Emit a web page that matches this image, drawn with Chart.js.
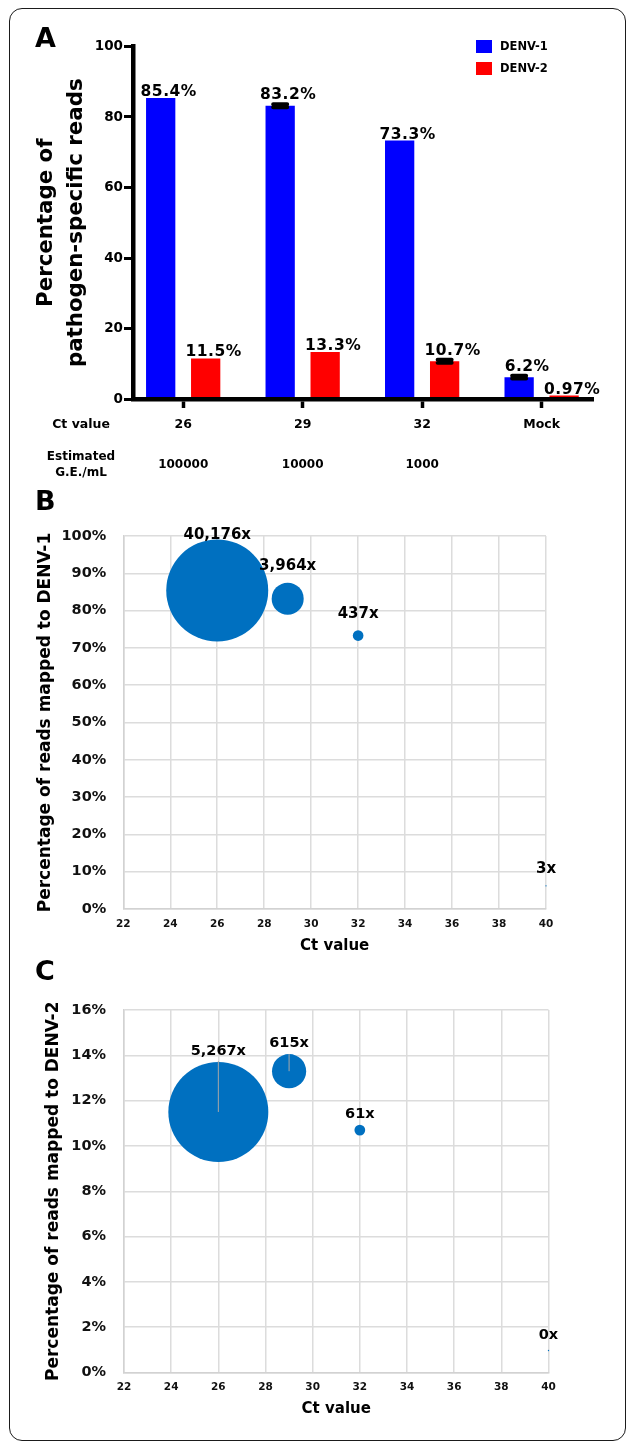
<!DOCTYPE html>
<html>
<head>
<meta charset="utf-8">
<title>DENV read mapping by Ct value</title>
<script src="https://cdn.jsdelivr.net/npm/chart.js@4.4.1/dist/chart.umd.min.js"></script>
<style>
  html, body { margin: 0; padding: 0; background: #fff; }
  #page { position: relative; width: 627px; height: 1443px; overflow: hidden; }
  #frame { position: absolute; left: 9px; top: 8px; width: 615px; height: 1431px;
           border: 1.5px solid #1b1b1b; border-radius: 13px; }
  canvas { position: absolute; left: 0; }
</style>
</head>
<body>
<div id="page">
  <div id="frame"></div>
  <canvas id="chartA" width="627" height="485" style="top:0px"></canvas>
  <canvas id="chartB" width="627" height="475" style="top:485px"></canvas>
  <canvas id="chartC" width="627" height="483" style="top:960px"></canvas>
</div>
<script>
const FONT = '"DejaVu Sans", "Noto Sans", sans-serif';

// Panel A: share of pathogen-specific reads per serotype at each Ct value
const ctLabels = ['26', '29', '32', 'Mock'];
const geLabels = ['100000', '10000', '1000', ''];
const denv1Pct = [85.4, 83.2, 73.3, 6.2];
const denv2Pct = [11.5, 13.3, 10.7, 0.97];
const denv1Err = [0, 0.4, 0, 0.4];
const denv2Err = [0, 0, 0.4, 0];

// Panels B and C: bubble area scales with sequencing depth
const ctValues = [26, 29, 32, 40];
const depthDenv1 = [40176, 3964, 437, 3];
const depthDenv2 = [5267, 615, 61, 0];
const denv2ErrUp = [2.25, 0.76, 0, 0];

Chart.defaults.font.family = FONT;
Chart.defaults.color = '#000';

const bold = (size, extra) => Object.assign({ family: FONT, size, weight: 'bold' }, extra || {});
const withCommas = n => String(n).replace(/\B(?=(\d{3})+(?!\d))/g, ',');

function drawLetter(ctx, letter, baseline) {
  ctx.save();
  ctx.font = 'bold 27px ' + FONT;
  ctx.fillStyle = '#000';
  ctx.textAlign = 'left';
  ctx.textBaseline = 'alphabetic';
  ctx.fillText(letter, 35, baseline);
  ctx.restore();
}

// ---------- Panel A ----------
const panelAPlugin = {
  id: 'panelA',
  afterDatasetsDraw(chart) {
    const { ctx } = chart;
    const yS = chart.scales.y;
    chart.data.datasets.forEach((ds, di) => {
      const meta = chart.getDatasetMeta(di);
      meta.data.forEach((bar, i) => {
        const v = ds.data[i].y;
        const e = ds.err[i];
        let base = bar.y - 2;
        ctx.save();
        if (e > 0) {
          const yHi = yS.getPixelForValue(v + e);
          const yLo = yS.getPixelForValue(v - e);
          ctx.strokeStyle = '#000';
          ctx.lineWidth = 4;
          ctx.lineCap = 'round';
          ctx.beginPath();
          ctx.moveTo(bar.x - 7, yHi); ctx.lineTo(bar.x + 7, yHi);
          ctx.moveTo(bar.x, yHi); ctx.lineTo(bar.x, yLo);
          ctx.moveTo(bar.x - 7, yLo); ctx.lineTo(bar.x + 7, yLo);
          ctx.stroke();
          base = yHi - 5;
        }
        // number centred over the bar, % sign trailing
        ctx.font = 'bold 15.5px ' + FONT;
        ctx.letterSpacing = '0.5px';
        const num = String(v);
        const w = ctx.measureText(num).width;
        ctx.fillStyle = '#000';
        ctx.textAlign = 'left';
        ctx.textBaseline = 'alphabetic';
        ctx.fillText(num + '%', bar.x - w / 2, base);
        ctx.restore();
      });
    });
  },
  afterDraw(chart) {
    const { ctx } = chart;
    const xS = chart.scales.x;
    drawLetter(ctx, 'A', 47);

    ctx.save();
    ctx.fillStyle = '#000';
    ctx.textBaseline = 'middle';
    ctx.textAlign = 'center';
    // row headers under the axis
    ctx.font = 'bold 12.5px ' + FONT;
    ctx.fillText('Ct value', 81, 425);
    ctx.font = 'bold 12px ' + FONT;
    ctx.fillText('Estimated', 81, 457);
    ctx.fillText('G.E./mL', 81, 473);
    geLabels.forEach((g, i) => {
      if (g) ctx.fillText(g, xS.getPixelForValue(i), 465);
    });

    // legend
    ctx.textAlign = 'left';
    ctx.font = 'bold 11.5px ' + FONT;
    chart.data.datasets.forEach((ds, i) => {
      const top = 40 + i * 22;
      ctx.fillStyle = ds.backgroundColor;
      ctx.fillRect(476, top, 16, 13);
      ctx.fillStyle = '#000';
      ctx.fillText(ds.label, 500, top + 7);
    });
    ctx.restore();
  }
};

new Chart(document.getElementById('chartA'), {
  type: 'bar',
  data: {
    datasets: [
      { label: 'DENV-1', data: denv1Pct.map((y, i) => ({ x: i, y })), err: denv1Err,
        backgroundColor: '#0000ff', borderWidth: 0, categoryPercentage: 0.753, barPercentage: 0.651 },
      { label: 'DENV-2', data: denv2Pct.map((y, i) => ({ x: i, y })), err: denv2Err,
        backgroundColor: '#ff0000', borderWidth: 0, categoryPercentage: 0.753, barPercentage: 0.651 }
    ]
  },
  options: {
    responsive: false,
    animation: false,
    devicePixelRatio: 1,
    layout: { padding: { left: 0, top: 46.5, right: 34, bottom: 0 } },
    scales: {
      x: {
        type: 'linear', min: -0.42, max: 3.43, offset: false,
        afterBuildTicks: s => { s.ticks = ctLabels.map((_, i) => ({ value: i })); },
        afterFit: s => { s.height = 86; },
        grid: { display: true, offset: false, drawOnChartArea: false, drawTicks: true,
                tickLength: 9, tickWidth: 3.5, tickColor: '#000' },
        border: { display: true, color: '#000', width: 4.5, z: 1 },
        ticks: { callback: (v, i) => ctLabels[i], font: bold(12.5), color: '#000',
                 padding: 9, maxRotation: 0, autoSkip: false }
      },
      y: {
        min: 0, max: 100,
        afterFit: s => { s.width = 133; },
        ticks: { stepSize: 20, font: bold(13.5), color: '#000', padding: 1 },
        grid: { drawOnChartArea: false, tickLength: 9, tickWidth: 3, tickColor: '#000' },
        border: { color: '#000', width: 4.5, z: 1 },
        title: { display: true, text: ['Percentage of', 'pathogen-specific reads'],
                 font: bold(21.3, { lineHeight: 1.41 }), color: '#000', padding: { top: 31, bottom: 0 } }
      }
    },
    plugins: { legend: { display: false }, tooltip: { enabled: false } }
  },
  plugins: [panelAPlugin]
});

// ---------- Panels B and C ----------
const bubbleLabelPlugin = {
  id: 'bubbleLabels',
  afterDatasetsDraw(chart, args, o) {
    const { ctx, chartArea } = chart;
    const yS = chart.scales.y;
    const ds = chart.data.datasets[0];
    const meta = chart.getDatasetMeta(0);
    ctx.save();
    meta.data.forEach((pt, i) => {
      const d = ds.data[i];
      if (d.errUp > 0) {
        ctx.strokeStyle = '#a8a8a8';
        ctx.lineWidth = 1;
        ctx.beginPath();
        ctx.moveTo(pt.x, pt.y);
        ctx.lineTo(pt.x, yS.getPixelForValue(d.y + d.errUp));
        ctx.stroke();
      }
      let base = Math.min(pt.y - d.r - o.gap, pt.y - 12);
      base = Math.max(base, chartArea.top + 3);
      ctx.font = 'bold ' + o.size + 'px ' + FONT;
      ctx.fillStyle = '#000';
      ctx.textAlign = 'center';
      ctx.textBaseline = 'alphabetic';
      ctx.fillText(withCommas(d.depth) + 'x', pt.x, base);
    });
    ctx.restore();
  },
  afterDraw(chart, args, o) {
    drawLetter(chart.ctx, o.letter, o.letterBase);
  }
};

function bubbleChart(id, cfg) {
  const maxDepth = Math.max(...cfg.depth);
  return new Chart(document.getElementById(id), {
    type: 'bubble',
    data: {
      datasets: [{
        label: cfg.label,
        data: ctValues.map((x, i) => ({
          x, y: cfg.pct[i],
          r: Math.max(cfg.maxR * Math.sqrt(cfg.depth[i] / maxDepth), 0.7),
          depth: cfg.depth[i],
          errUp: cfg.errUp ? cfg.errUp[i] : 0
        })),
        backgroundColor: '#0070c0',
        borderWidth: 0,
        hoverBorderWidth: 0,
        clip: false
      }]
    },
    options: {
      responsive: false,
      animation: false,
      devicePixelRatio: 1,
      layout: { padding: cfg.padding },
      scales: {
        x: {
          type: 'linear', min: 22, max: 40,
          afterFit: s => { s.height = cfg.xHeight; },
          ticks: { stepSize: 2, font: bold(10.5), color: '#111', padding: cfg.xPad, maxRotation: 0 },
          grid: { color: '#dcdcdc', lineWidth: 1.5, drawTicks: false },
          border: { color: '#d2d2d2', width: 1.5 },
          title: { display: true, text: 'Ct value', font: bold(15), color: '#000',
                   padding: { top: 0, bottom: cfg.titleBottom } }
        },
        y: {
          min: 0, max: cfg.yMax,
          afterFit: s => { s.width = cfg.yWidth; },
          ticks: { stepSize: cfg.yStep, font: bold(14.5), color: '#111', padding: cfg.yPad,
                   callback: v => v + '%' },
          grid: { color: '#dcdcdc', lineWidth: 1.5, drawTicks: false },
          border: { color: '#d2d2d2', width: 1.5 },
          title: { display: true, text: cfg.title, font: bold(17), color: '#000',
                   padding: { top: cfg.titleTop, bottom: 0 } }
        }
      },
      plugins: {
        legend: { display: false },
        tooltip: { enabled: false },
        bubbleLabels: { gap: cfg.gap, size: cfg.labelSize, letter: cfg.letter, letterBase: cfg.letterBase }
      }
    },
    plugins: [bubbleLabelPlugin]
  });
}

bubbleChart('chartB', {
  label: 'DENV-1', pct: denv1Pct, depth: depthDenv1, maxR: 51,
  title: 'Percentage of reads mapped to DENV-1', yMax: 100, yStep: 10,
  padding: { left: 0, top: 45, right: 81, bottom: 0 },
  yWidth: 123.3, xHeight: 50, xPad: 8.7, titleBottom: 3.5, yPad: 17, titleTop: 35.8,
  gap: 12.5, labelSize: 15, letter: 'B', letterBase: 25
});

bubbleChart('chartC', {
  label: 'DENV-2', pct: denv2Pct, depth: depthDenv2, maxR: 50, errUp: denv2ErrUp,
  title: 'Percentage of reads mapped to DENV-2', yMax: 16, yStep: 2,
  padding: { left: 0, top: 46, right: 78.5, bottom: 0 },
  yWidth: 124, xHeight: 70.5, xPad: 8.2, titleBottom: 25, yPad: 18, titleTop: 43.8,
  gap: 7, labelSize: 14.5, letter: 'C', letterBase: 20
});
</script>
</body>
</html>
